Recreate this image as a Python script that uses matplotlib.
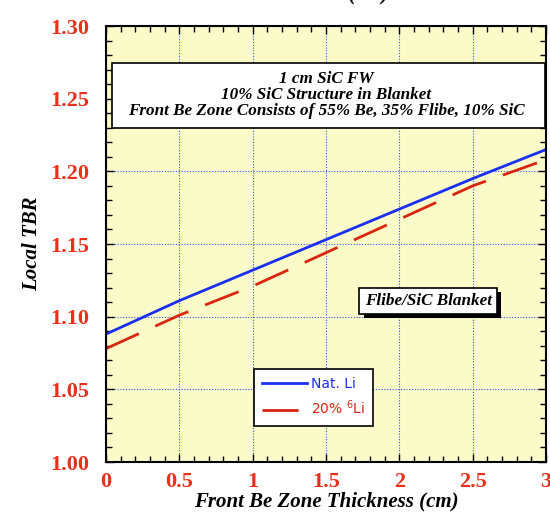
import numpy as np
import matplotlib.pyplot as plt
from matplotlib.ticker import MultipleLocator
from matplotlib.patches import Rectangle
import matplotlib.patheffects as pe

# Local TBR vs. front Be zone thickness
thickness = [0.0, 0.5, 1.0, 1.5, 2.0, 2.5, 3.0]
tbr_nat_li = [1.088, 1.111, 1.132, 1.153, 1.174, 1.195, 1.215]
tbr_li6_20 = [1.078, 1.101, 1.121, 1.144, 1.167, 1.190, 1.208]

x_ticks = [0, 0.5, 1, 1.5, 2, 2.5, 3]
x_tick_labels = ['0', '0.5', '1', '1.5', '2', '2.5', '3']
y_ticks = [1.00, 1.05, 1.10, 1.15, 1.20, 1.25, 1.30]

serif = ['Liberation Serif', 'DejaVu Serif']
red = '#e8301c'
blue = '#1a2ff0'
dash_red = '#d8260f'

fig = plt.figure(figsize=(5.5, 5.17), dpi=100)
ax = fig.add_axes([106 / 550, 1 - 462 / 517, 440 / 550, 436 / 517])
ax.set_facecolor('#fbfbc9')

ax.plot(thickness, tbr_nat_li, color=blue, lw=2.0, label='Nat. Li')
ax.plot(thickness, tbr_li6_20, color=dash_red, lw=2.0, dashes=(13, 6.5),
        label='20% $^6$Li')

ax.set_xlim(0, 3)
ax.set_ylim(1.00, 1.30)
ax.set_xticks(x_ticks)
ax.set_xticklabels(x_tick_labels)
ax.set_yticks(y_ticks)
ax.set_yticklabels([f'{v:.2f}' for v in y_ticks])
ax.xaxis.set_minor_locator(MultipleLocator(0.1))
ax.yaxis.set_minor_locator(MultipleLocator(0.01))
ax.tick_params(which='both', direction='in', top=True, right=True, width=1.0)
ax.tick_params(which='major', length=6, pad=7)
ax.tick_params(which='minor', length=4)
for lab in ax.get_xticklabels() + ax.get_yticklabels():
    lab.set_fontfamily(serif)
    lab.set_fontweight('bold')
    lab.set_fontsize(16)
    lab.set_color(red)
ax.tick_params(axis='y', pad=12)

ax.grid(True, which='major', color='#3355ee', lw=0.8, ls=(0, (1, 1.5)))
ax.set_axisbelow(True)
for sp in ax.spines.values():
    sp.set_linewidth(1.5)

ax.set_xlabel('Front Be Zone Thickness (cm)', fontfamily=serif, fontweight='bold',
              fontstyle='italic', fontsize=15, labelpad=0)
ax.set_ylabel('Local TBR', fontfamily=serif, fontweight='bold',
              fontstyle='italic', fontsize=15, labelpad=6)

# clipped title at the very top
fig.text(0.52, 1.011, 'Blanket Thickness (cm)', ha='center', va='center',
         fontfamily=serif, fontweight='bold', fontstyle='italic', fontsize=15)

# description box
ax.add_patch(Rectangle((0.014, 0.766), 0.984, 0.149, transform=ax.transAxes,
                       fc='white', ec='black', lw=1.2, zorder=4))
ax.text(0.5, 0.842,
        '1 cm SiC FW\n10% SiC Structure in Blanket\n'
        'Front Be Zone Consists of 55% Be, 35% Flibe, 10% SiC',
        transform=ax.transAxes, ha='center', va='center', fontfamily=serif,
        fontweight='bold', fontstyle='italic', fontsize=12.3, linespacing=1.0,
        zorder=5)

# blanket label with drop shadow
ax.text(0.732, 0.369, 'Flibe/SiC Blanket', transform=ax.transAxes, ha='center',
        va='center', fontfamily=serif, fontweight='bold', fontstyle='italic',
        fontsize=12.3,
        bbox=dict(boxstyle='square,pad=0.3', fc='white', ec='black', lw=1.2,
                  path_effects=[pe.SimplePatchShadow(offset=(3, -3),
                                                     shadow_rgbFace='black',
                                                     alpha=1.0),
                                pe.Normal()]))

leg = ax.legend(loc='lower left', bbox_to_anchor=(0.336, 0.083), frameon=True,
                fancybox=False, edgecolor='black', framealpha=1.0,
                borderaxespad=0, prop={'family': 'DejaVu Sans', 'size': 10},
                handlelength=3.2, borderpad=0.6, labelspacing=0.55,
                handletextpad=0.3)
leg.get_frame().set_linewidth(1.2)
for txt, c in zip(leg.get_texts(), [blue, dash_red]):
    txt.set_color(c)

fig.savefig('out.png', dpi=100, facecolor='white')
